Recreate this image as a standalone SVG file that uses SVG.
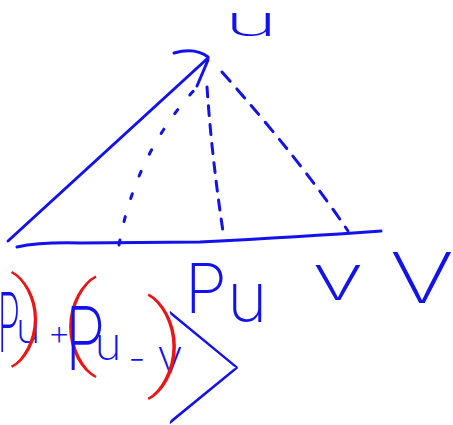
<svg xmlns="http://www.w3.org/2000/svg" width="453" height="425" viewBox="0 0 453 425">
<style>
.ln{fill:none;stroke:#1212ee;stroke-width:3;stroke-linecap:round;stroke-linejoin:round}
.b{fill:#1212ee;font-family:Inter,"Liberation Sans",sans-serif;font-weight:200;text-anchor:middle}
.r{fill:#ee1414;font-family:Roboto,"Liberation Sans",sans-serif;font-weight:100;text-anchor:middle}
.h{fill:#1212ee;font-family:Lato,"Liberation Sans",sans-serif;font-weight:200;text-anchor:middle}
</style>
<rect width="453" height="425" fill="#ffffff"/>
<g id="connectors">
  <path id="vec-u" class="ln" d="M8,241 L208,58"/>
  <path id="vec-u-head" class="ln" d="M174,53 Q195,47 208,57 M197,86 L208,60"/>
  <path id="line-V" class="ln" d="M17,247 Q40,242 80,243 L200,242 Q300,237 381,231"/>
  <path id="drop-1" class="ln" stroke-dasharray="5,19" d="M119,245 Q136,150 200,84"/>
  <path id="drop-2" class="ln" stroke-dasharray="10,9" d="M207,87 Q212,160 224,238"/>
  <path id="drop-3" class="ln" stroke-dasharray="12,10" d="M222,72 Q300,160 348,231"/>
</g>
<g id="label-u"><text class="b" font-weight="100" transform="translate(251,36) scale(2.2,1)" font-size="42">u</text></g>
<g id="label-Pu"><text class="b" x="226" y="313" font-size="69">P<tspan dy="9">u</tspan></text></g>
<g id="label-v"><text class="b" font-weight="150" transform="translate(338,300) scale(1.5,1)" font-size="64">v</text></g>
<g id="label-V"><text class="b" font-weight="150" transform="translate(422,303) scale(1.4,1)" font-size="70">V</text></g>
<g id="expression">
  <text class="b" transform="translate(9,352) scale(0.45,1)" font-size="82">P</text>
  <text class="b" x="28" y="343" font-size="42">u</text>
  <text class="r" transform="translate(28,346) scale(1.3,1)" font-size="95">)</text>
  <text class="b" x="59" y="345" font-size="36">+</text>
  <text class="r" transform="translate(79,355) scale(1.3,1)" font-size="100">(</text>
  <text class="b" transform="translate(85,370) scale(0.75,1)" font-size="88">P</text>
  <text class="b" x="108" y="360" font-size="46">u</text>
  <text class="b" x="137" y="372" font-size="40">-</text>
  <text class="b" x="170" y="373" font-size="48">v</text>
  <text class="r" transform="translate(166,376) scale(1.3,1)" font-size="103">)</text>
  <text class="h" transform="translate(201,468) scale(0.62,1)" font-size="300">&gt;</text>
</g>
</svg>
